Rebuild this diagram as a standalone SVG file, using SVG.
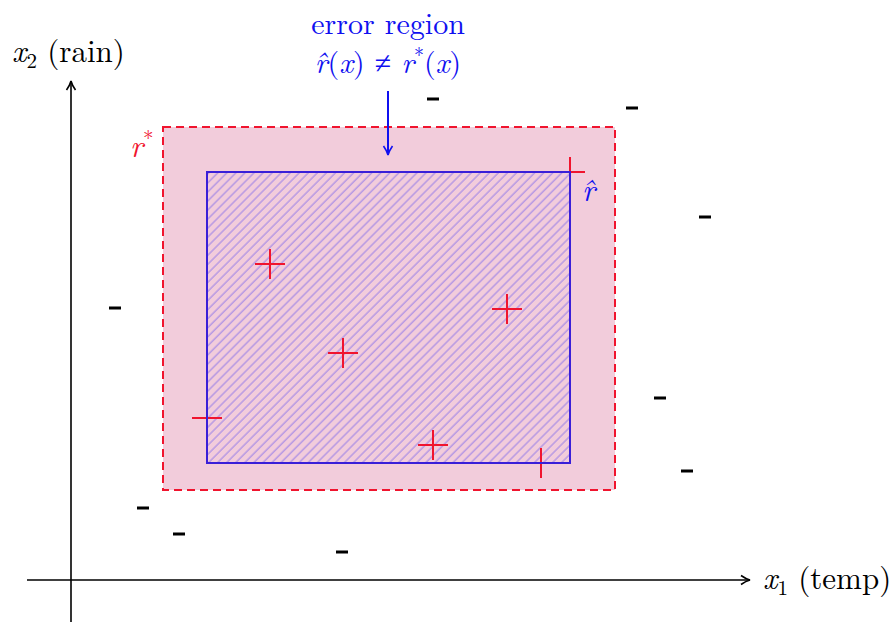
<svg xmlns="http://www.w3.org/2000/svg" width="896" height="623" viewBox="0 0 896 623">
<style>
.t{font-family:"Latin Modern Roman","Liberation Serif","DejaVu Serif",serif;font-size:31px}
.l{font-size:30px}
.i{font-style:italic}
.plus{stroke:#f0142e;stroke-width:2;fill:none}
.minus{stroke:#000;stroke-width:3}
.ax{stroke:#000;stroke-width:1.6;fill:none}
</style>
<defs>
<marker id="ahb" viewBox="0 0 12 12" refX="10" refY="6" markerWidth="12" markerHeight="12" markerUnits="userSpaceOnUse" orient="auto">
<path d="M1,1.5 Q6,5 10,6 Q6,7 1,10.5" fill="none" stroke="#1010f0" stroke-width="1.6"/>
</marker>
<marker id="ahk" viewBox="0 0 12 12" refX="10" refY="6" markerWidth="12" markerHeight="12" markerUnits="userSpaceOnUse" orient="auto">
<path d="M1,1.5 Q6,5 10,6 Q6,7 1,10.5" fill="none" stroke="#000" stroke-width="1.6"/>
</marker>
<pattern id="hatch" patternUnits="userSpaceOnUse" width="6.4" height="8" patternTransform="rotate(45)">
<line x1="1" y1="0" x2="1" y2="8" stroke="#a085e6" stroke-width="1.1"/>
</pattern>
</defs>
<g id="axes">
<line class="ax" x1="71" y1="622" x2="71" y2="81" marker-end="url(#ahk)"/>
<line class="ax" x1="27" y1="580" x2="750" y2="580" marker-end="url(#ahk)"/>
<text class="t" x="12" y="62"><tspan class="i">x</tspan><tspan font-size="21" dy="6">2</tspan><tspan dy="-6"> (rain)</tspan></text>
<text class="t" x="763" y="589"><tspan class="i">x</tspan><tspan font-size="21" dy="6">1</tspan><tspan dy="-6"> (temp)</tspan></text>
</g>
<g id="r-star">
<rect x="163" y="127" width="452" height="363" fill="#f2ccdb" stroke="#f0142e" stroke-width="2" stroke-dasharray="8,5"/>
<text class="t i" x="130" y="157" fill="#f0142e">r<tspan font-size="21" dy="-11" font-style="normal">*</tspan></text>
</g>
<g id="r-hat">
<rect x="207" y="172" width="363" height="291" fill="url(#hatch)"/>
</g>
<g id="points-plus">
<path class="plus" d="M255,264h30M270,249v30"/>
<path class="plus" d="M492,309h30M507,294v30"/>
<path class="plus" d="M328,353h30M343,338v30"/>
<path class="plus" d="M418,445h30M433,430v30"/>
<path class="plus" d="M192,418h30M207,403v30"/>
<path class="plus" d="M526,463h30M541,448v30"/>
<path class="plus" d="M555,172h30M570,157v30"/>
</g>
<g id="r-hat-border">
<rect x="207" y="172" width="363" height="291" fill="none" stroke="#3a1fd8" stroke-width="2"/>
<text class="t i" x="582" y="201" fill="#1010f0">r̂</text>
</g>
<g id="points-minus">
<path class="minus" d="M427,99h12M626,108h12M699,217h12M109,308h12M654,398h12M681,471h12M137,508h12M173,534h12M336,552h12"/>
</g>
<g id="label-error">
<text class="t l" x="388" y="34" text-anchor="middle" fill="#1010f0">error region</text>
<text class="t l" x="388" y="73" text-anchor="middle" fill="#1010f0"><tspan class="i">r̂</tspan>(<tspan class="i">x</tspan>) ≠ <tspan class="i">r</tspan><tspan font-size="20" dy="-11">*</tspan><tspan dy="11">(</tspan><tspan class="i">x</tspan>)</text>
</g>
<g id="connectors">
<line x1="388" y1="91" x2="388" y2="155" stroke="#1010f0" stroke-width="2" marker-end="url(#ahb)"/>
</g>
</svg>
